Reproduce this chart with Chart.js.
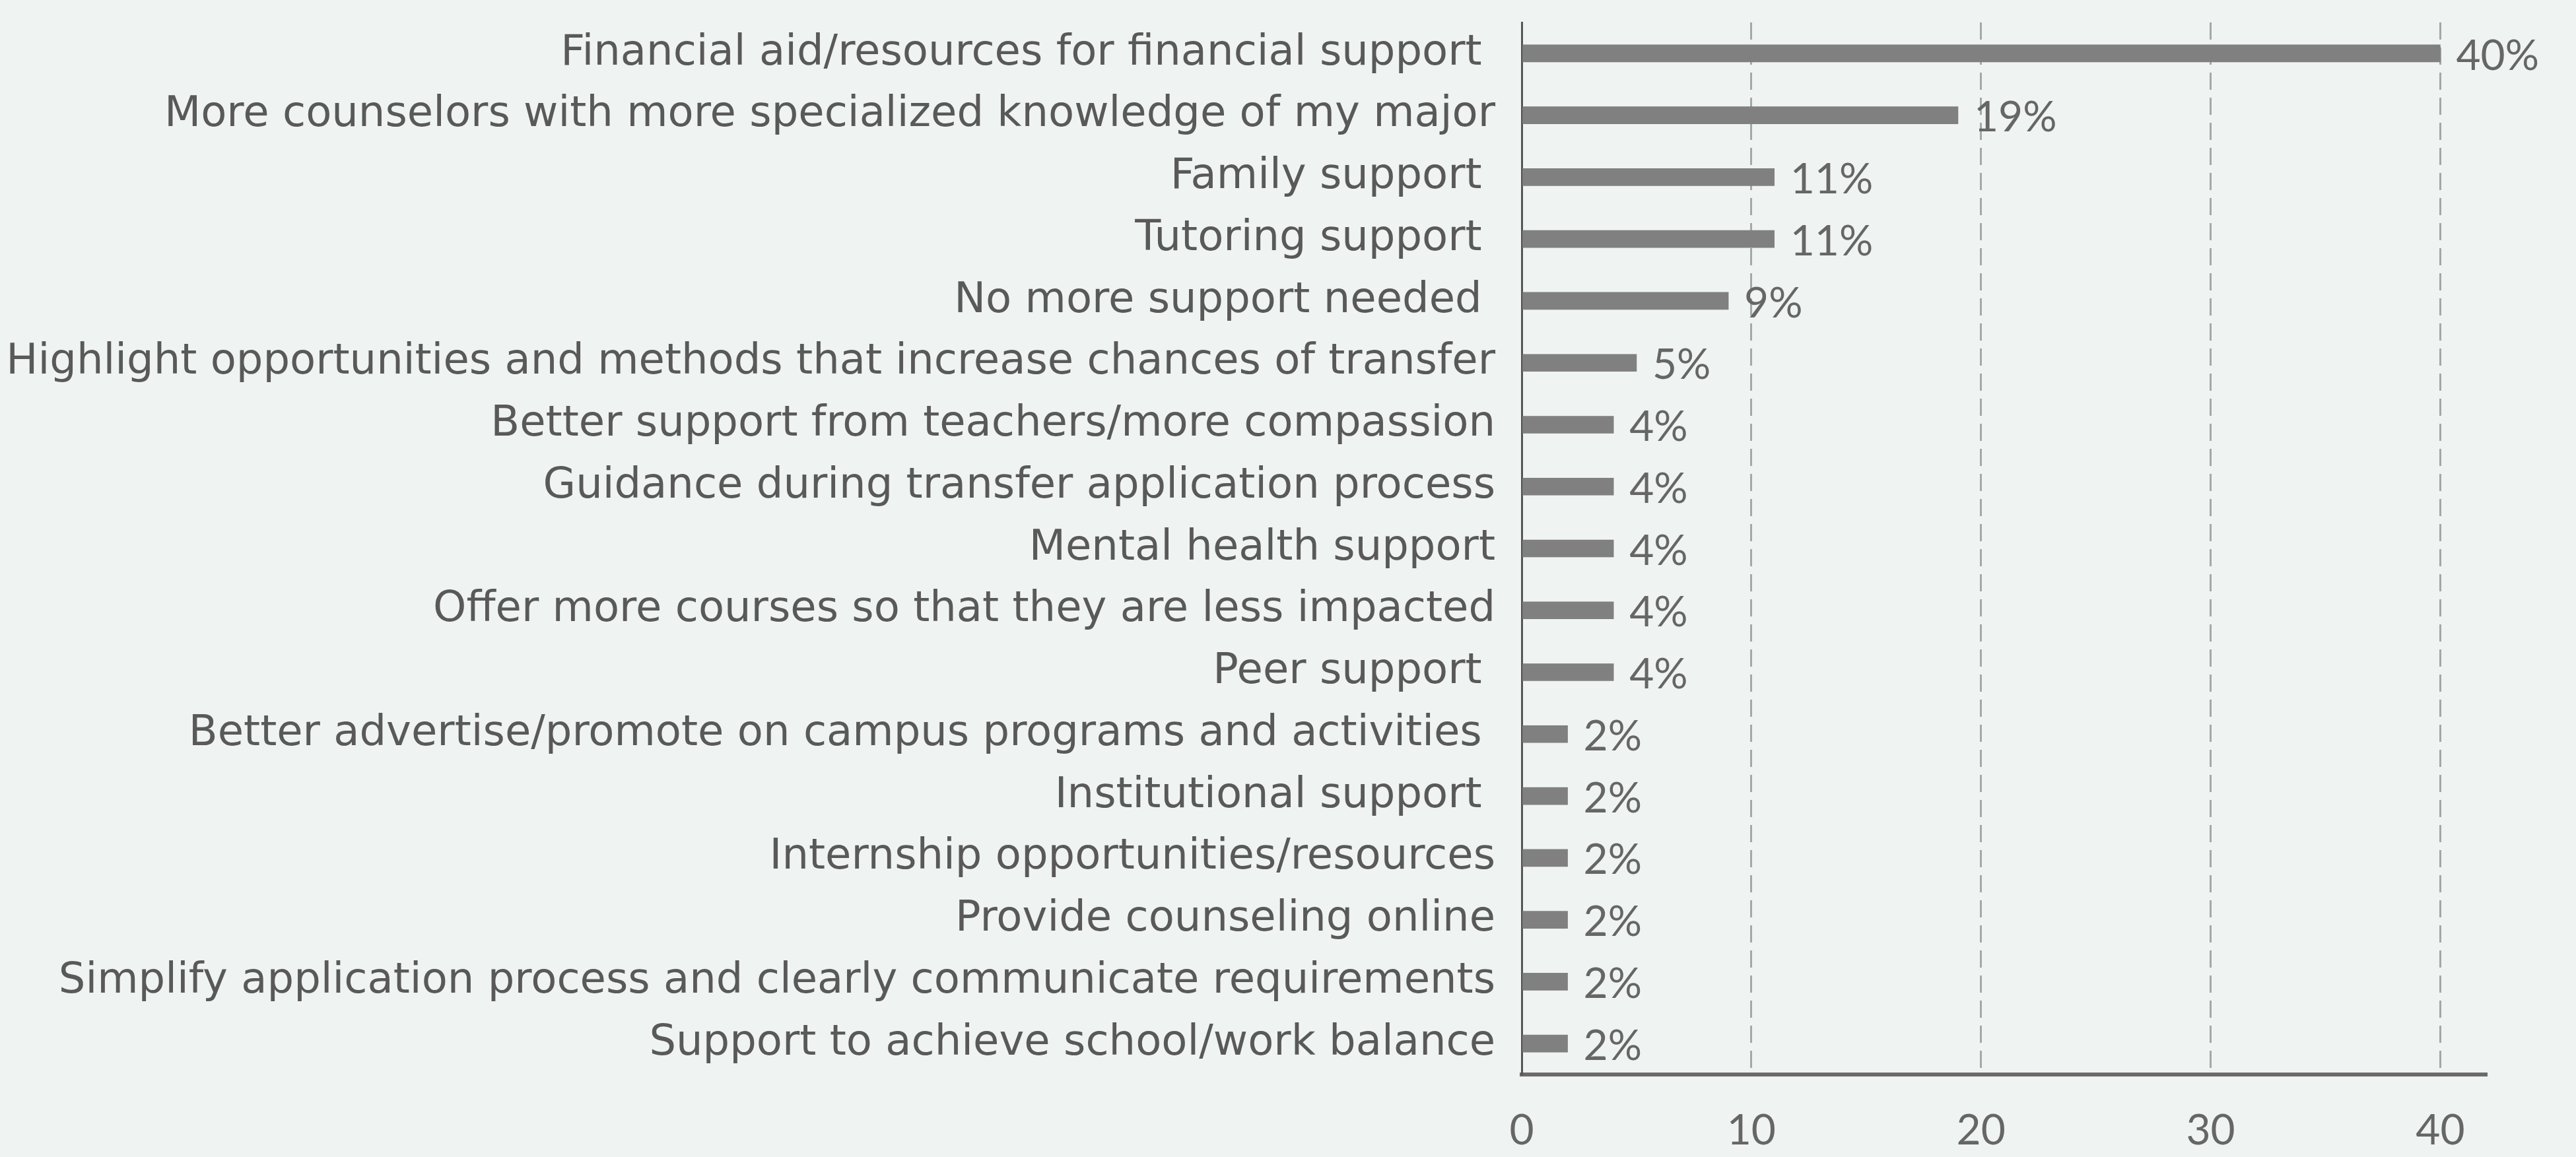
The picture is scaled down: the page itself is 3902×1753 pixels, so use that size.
<!DOCTYPE html>
<html>
<head>
<meta charset="utf-8">
<script src="https://cdn.jsdelivr.net/npm/chart.js@4"></script>
<style>
  html, body { margin: 0; padding: 0; background: #eff3f2; }
  #wrap { width: 3902px; height: 1753px; position: relative; }
</style>
</head>
<body>
<div id="wrap"><canvas id="myChart"></canvas></div>
<script>
const categorias = [
    'Financial aid/resources for financial support ',
    'More counselors with more specialized knowledge of my major',
    'Family support ',
    'Tutoring support ',
    'No more support needed ',
    'Highlight opportunities and methods that increase chances of transfer',
    'Better support from teachers/more compassion',
    'Guidance during transfer application process',
    'Mental health support',
    'Offer more courses so that they are less impacted',
    'Peer support ',
    'Better advertise/promote on campus programs and activities ',
    'Institutional support ',
    'Internship opportunities/resources',
    'Provide counseling online',
    'Simplify application process and clearly communicate requirements',
    'Support to achieve school/work balance'
];

const valores = [40, 19, 11, 11, 9, 5, 4, 4, 4, 4, 4, 2, 2, 2, 2, 2, 2];
const ticksX = [0, 10, 20, 30, 40];

// rótulos de porcentagem no fim de cada barra
const rotulosPlugin = {
    id: 'rotulos',
    afterDatasetsDraw(chart) {
        const ctx = chart.ctx;
        const meta = chart.getDatasetMeta(0);
        ctx.save();
        ctx.font = '64px Lato';
        ctx.fillStyle = '#666666';
        ctx.textAlign = 'left';
        ctx.textBaseline = 'middle';
        meta.data.forEach((bar, i) => {
            ctx.fillText(valores[i] + '%', bar.x + 24, bar.y + 4);
        });
        ctx.restore();
    }
};

const config = {
    type: 'bar',
    data: {
        labels: categorias,
        datasets: [{
            data: valores,
            backgroundColor: '#808080',
            barThickness: 26
        }]
    },
    options: {
        indexAxis: 'y',
        responsive: true,
        maintainAspectRatio: false,
        devicePixelRatio: 1,
        animation: false,
        layout: { padding: { top: 0, right: 136, bottom: 0, left: 0 } },
        plugins: {
            legend: { display: false },
            tooltip: { enabled: false }
        },
        scales: {
            x: {
                min: 0,
                max: 42,
                afterBuildTicks: scale => {
                    scale.ticks = ticksX.map(v => ({ value: v }));
                },
                afterFit: scale => { scale.height = 125; },
                grid: {
                    color: ctx => ctx.tick && ctx.tick.value === 0 ? 'rgba(0,0,0,0)' : '#a3a8a8',
                    lineWidth: 3,
                    drawTicks: false
                },
                border: { display: true, color: '#6b6b6b', width: 6, dash: [26, 12] },
                ticks: {
                    padding: 47,
                    color: '#666666',
                    font: { family: 'Lato', size: 64 }
                }
            },
            y: {
                afterFit: scale => {
                    scale.width = 2305;
                    scale.paddingTop = 34;
                    scale.paddingBottom = 0;
                },
                grid: { display: false, drawTicks: false },
                border: { display: true, color: '#555555', width: 3 },
                ticks: {
                    padding: 40,
                    color: '#595959',
                    font: { family: 'DejaVu Sans', size: 64, lineHeight: 1.1 }
                }
            }
        }
    },
    plugins: [rotulosPlugin]
};

const myChart = new Chart(document.getElementById('myChart'), config);
</script>
</body>
</html>
